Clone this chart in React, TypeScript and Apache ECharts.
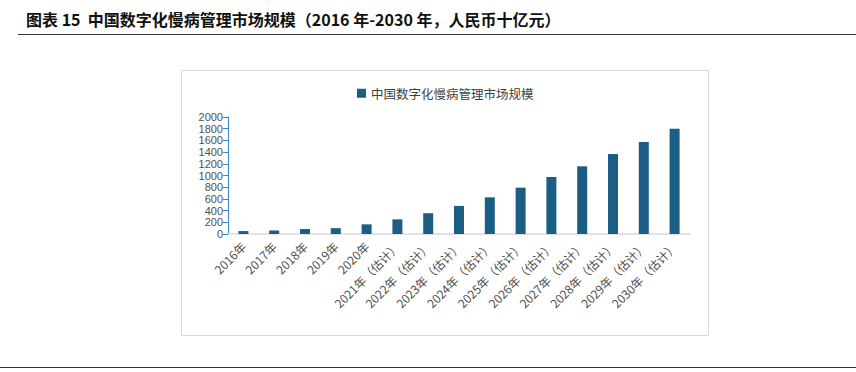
import React, { useEffect, useRef } from "react";
import * as echarts from "echarts";

const categories = [
  "2016年", "2017年", "2018年", "2019年", "2020年",
  "2021年（估计）", "2022年（估计）", "2023年（估计）", "2024年（估计）", "2025年（估计）",
  "2026年（估计）", "2027年（估计）", "2028年（估计）", "2029年（估计）", "2030年（估计）",
];
const marketSize = [50, 60, 85, 100, 165, 250, 355, 480, 627, 792, 975, 1157, 1367, 1573, 1800];
const seriesName = "中国数字化慢病管理市场规模";
const titleText = "图表 15  中国数字化慢病管理市场规模（2016 年-2030 年，人民币十亿元）";

export default function App() {
  const ref = useRef<HTMLDivElement>(null);
  useEffect(() => {
    if (!ref.current) return;
    const chart = echarts.init(ref.current, null, { renderer: "svg" });
    chart.setOption({
      animation: false,
      backgroundColor: "#ffffff",
      textStyle: { fontFamily: "'Noto Sans CJK SC', 'Noto Sans', sans-serif" },
      graphic: [
        {
          type: "text",
          left: 26,
          top: 11,
          style: {
            text: titleText,
            font: "bold 16px 'Noto Sans CJK SC', sans-serif",
            fill: "#111111",
          },
        },
        { type: "line", shape: { x1: 18, y1: 34.5, x2: 856, y2: 34.5 }, style: { stroke: "#333333", lineWidth: 1 } },
        { type: "line", shape: { x1: 0, y1: 367.5, x2: 856, y2: 367.5 }, style: { stroke: "#333333", lineWidth: 1 } },
        {
          type: "rect",
          shape: { x: 181.5, y: 70.5, width: 527, height: 265 },
          style: { fill: "none", stroke: "#d9d9d9", lineWidth: 1 },
          z: -1,
        },
      ],
      legend: {
        left: 352,
        top: 82,
        icon: "rect",
        itemWidth: 9,
        itemHeight: 9,
        itemGap: 6,
        textStyle: { fontSize: 12.5, color: "#404040" },
        data: [seriesName],
      },
      grid: { left: 228, right: 166, top: 117, bottom: 138, containLabel: false },
      xAxis: {
        type: "category",
        data: categories,
        axisLine: { lineStyle: { color: "#d9d9d9", width: 1.5 } },
        axisTick: { show: false },
        axisLabel: { interval: 0, rotate: 45, fontSize: 12, color: "#505050", margin: 10 },
      },
      yAxis: {
        type: "value",
        min: 0,
        max: 2000,
        interval: 200,
        splitLine: { show: false },
        axisLine: { show: true, lineStyle: { color: "#3d86c6", width: 1 } },
        axisTick: { show: true, length: 5, lineStyle: { color: "#3d86c6" } },
        axisLabel: {
          fontSize: 11,
          fontFamily: "'Liberation Sans', Arial, sans-serif",
          color: "#505050",
          margin: 5,
          showMinLabel: true,
          showMaxLabel: true,
          formatter: (v: number) => String(v),
        },
      },
      series: [
        {
          name: seriesName,
          type: "bar",
          data: marketSize,
          barWidth: 10,
          itemStyle: { color: "#1a5f83" },
        },
      ],
    });
    return () => chart.dispose();
  }, []);
  return (
    <div
      ref={ref}
      style={{ position: "fixed", left: 0, top: 0, width: 856, height: 372 }}
    />
  );
}
